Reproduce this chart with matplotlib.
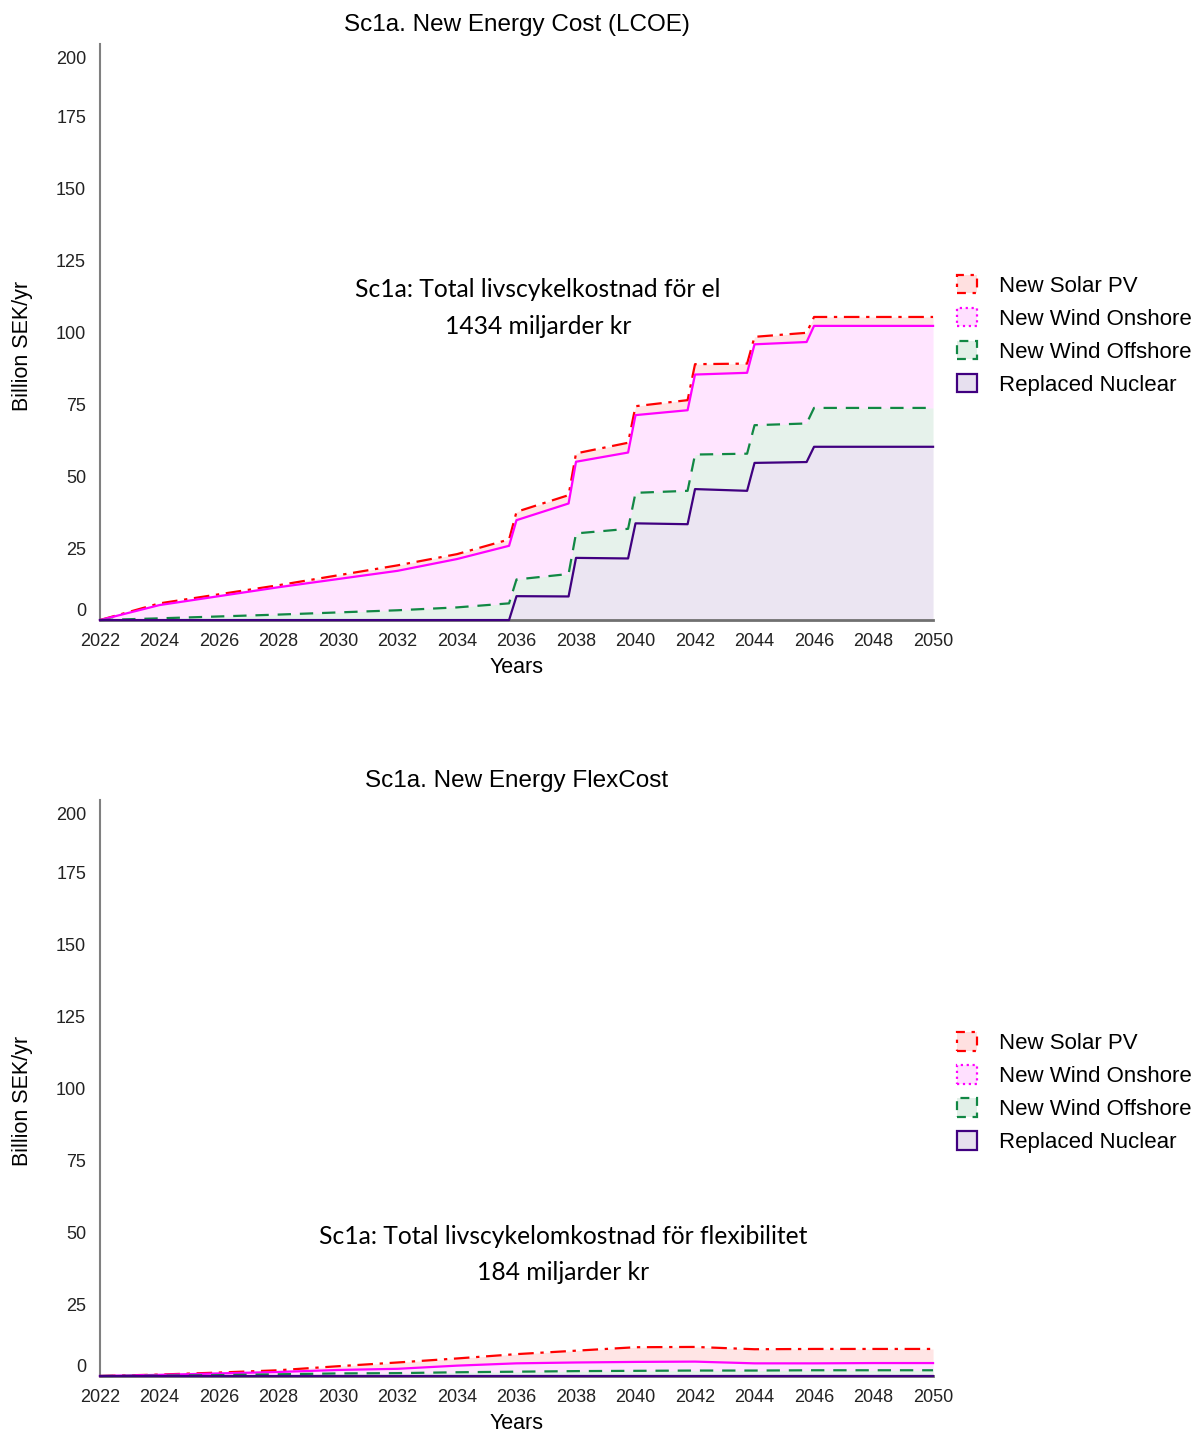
import numpy as np
import matplotlib.pyplot as plt
from matplotlib.patches import Patch
from matplotlib.transforms import ScaledTranslation

plt.rcParams['font.family'] = ['Liberation Sans', 'DejaVu Sans']

# LCOE-diagram (ovre): ar med stegpunkter och varje lagers bidrag
years_lcoe = [2022, 2024, 2028, 2032, 2034, 2035.75, 2036, 2037.75, 2038, 2039.75,
              2040, 2041.75, 2042, 2043.75, 2044, 2045.75, 2046, 2050]
nuclear_lcoe = [0, 0, 0, 0, 0, 0, 8.3, 8.2, 21.6, 21.4, 33.6, 33.3, 45.5, 44.9, 54.6, 54.9, 60.2, 60.2]
offshore_lcoe = [0, 0.6, 1.9, 3.4, 4.4, 5.8, 5.8, 7.8, 8.5, 10.3, 10.6, 11.6, 12.0, 12.9, 13.1, 13.4, 13.5, 13.5]
onshore_lcoe = [0, 4.6, 9.5, 13.7, 16.8, 20.0, 20.6, 24.5, 24.9, 26.5, 27.0, 28.0, 27.8, 28.1, 28.1, 28.3, 28.5, 28.5]
solar_lcoe = [0, 0.6, 0.7, 1.9, 1.7, 2.2, 2.9, 2.9, 2.9, 3.4, 3.1, 3.5, 3.6, 3.2, 2.6, 3.2, 3.1, 3.1]

# FlexCost-diagram (nedre)
years_flex = [2022, 2024, 2026, 2028, 2030, 2032, 2034, 2036, 2038, 2040, 2042, 2044, 2046, 2048, 2050]
nuclear_flex = [0] * 15
offshore_flex = [0, 0.1, 0.3, 0.6, 0.9, 1.0, 1.3, 1.5, 1.7, 1.8, 1.9, 1.9, 2.0, 2.0, 2.0]
onshore_flex = [0, 0.3, 0.6, 0.8, 1.2, 1.5, 2.3, 2.9, 3.0, 3.1, 3.1, 2.5, 2.4, 2.5, 2.5]
solar_flex = [0, 0.1, 0.3, 0.6, 1.3, 2.2, 2.5, 3.2, 4.1, 5.1, 5.1, 4.9, 5.0, 4.9, 4.9]

labels = ["New Solar PV", "New Wind Onshore", "New Wind Offshore", "Replaced Nuclear"]
colors = ["#ff0000", "#ff00ff", "#118844", "#400080"]
styles = [(0, (7, 3, 1.5, 3)), "-", (0, (6, 4)), "-"]
legend_styles = [(0, (4, 3, 1.5, 3)), ":", (0, (4, 3)), "-"]

fig = plt.figure(figsize=(11.97, 14.32), dpi=100)
ax1 = fig.add_axes([0.0835, 0.567, 0.696, 0.402])
ax2 = fig.add_axes([0.0835, 0.0391, 0.696, 0.402])


def draw(ax, years, layers, title, note, note_xy, leg_y):
    x = np.array(years, dtype=float)
    bottom = np.zeros_like(x)
    tops = []
    # stapla nerifran: karnkraft, havsvind, landvind, sol
    for vals, col in zip(layers[::-1], colors[::-1]):
        top = bottom + np.array(vals, dtype=float)
        ax.fill_between(x, bottom, top, color=col, alpha=0.1, linewidth=0)
        tops.append(top)
        bottom = top
    tops = tops[::-1]
    for top, col, ls in zip(tops, colors, styles):
        ax.plot(x, top, color=col, linestyle=ls, linewidth=1.6, clip_on=False, zorder=3)

    ax.set_xlim(2022, 2050)
    ax.set_ylim(0, 200)
    ax.set_xticks(range(2022, 2051, 2))
    ax.set_yticks(range(0, 201, 25))
    ax.tick_params(length=0, labelsize=13, colors="#222222")
    ax.tick_params(axis="x", pad=9)
    ax.tick_params(axis="y", pad=10)
    ylabels = ax.get_yticklabels()
    ylabels[0].set_va("bottom")
    ylabels[-1].set_va("top")
    ylabels[-1].set_transform(ylabels[-1].get_transform()
                              + ScaledTranslation(0, -5 / 72, fig.dpi_scale_trans))
    for side in ["top", "right"]:
        ax.spines[side].set_visible(False)
    ax.spines["left"].set_color("#808080")
    ax.spines["left"].set_linewidth(1.5)
    ax.spines["bottom"].set_color("#707070")
    ax.spines["bottom"].set_linewidth(2)

    ax.set_xlabel("Years", fontsize=15.5)
    ax.xaxis.set_label_coords(0.5, -0.065)
    ax.set_ylabel("Billion SEK/yr", fontsize=15.5)
    ax.yaxis.set_label_coords(-0.08, 0.477)
    ax.text(0.5, 1.034, title, transform=ax.transAxes, ha="center", va="center",
            fontsize=17.5)
    ax.text(note_xy[0], note_xy[1], note, transform=ax.transAxes, ha="center",
            va="center", fontsize=17.7, family=["Lato", "DejaVu Sans"], linespacing=1.72)

    handles = [Patch(facecolor=plt.matplotlib.colors.to_rgba(c, 0.12), edgecolor=c,
                     linestyle=s, linewidth=1.6) for c, s in zip(colors, legend_styles)]
    ax.legend(handles, labels, loc="upper left", bbox_to_anchor=(1.029, leg_y),
              frameon=False, fontsize=16, handlelength=0.9, handleheight=0.9,
              handletextpad=1.0, labelspacing=0.5, borderpad=0, borderaxespad=0)


draw(ax1, years_lcoe, [solar_lcoe, onshore_lcoe, offshore_lcoe, nuclear_lcoe],
     "Sc1a. New Energy Cost (LCOE)",
     "Sc1a: Total livscykelkostnad för el\n1434 miljarder kr", (0.526, 0.5425), 0.600)
draw(ax2, years_flex, [solar_flex, onshore_flex, offshore_flex, nuclear_flex],
     "Sc1a. New Energy FlexCost",
     "Sc1a: Total livscykelomkostnad för flexibilitet\n184 miljarder kr", (0.556, 0.2110), 0.597)

fig.savefig("out.png", dpi=100)
